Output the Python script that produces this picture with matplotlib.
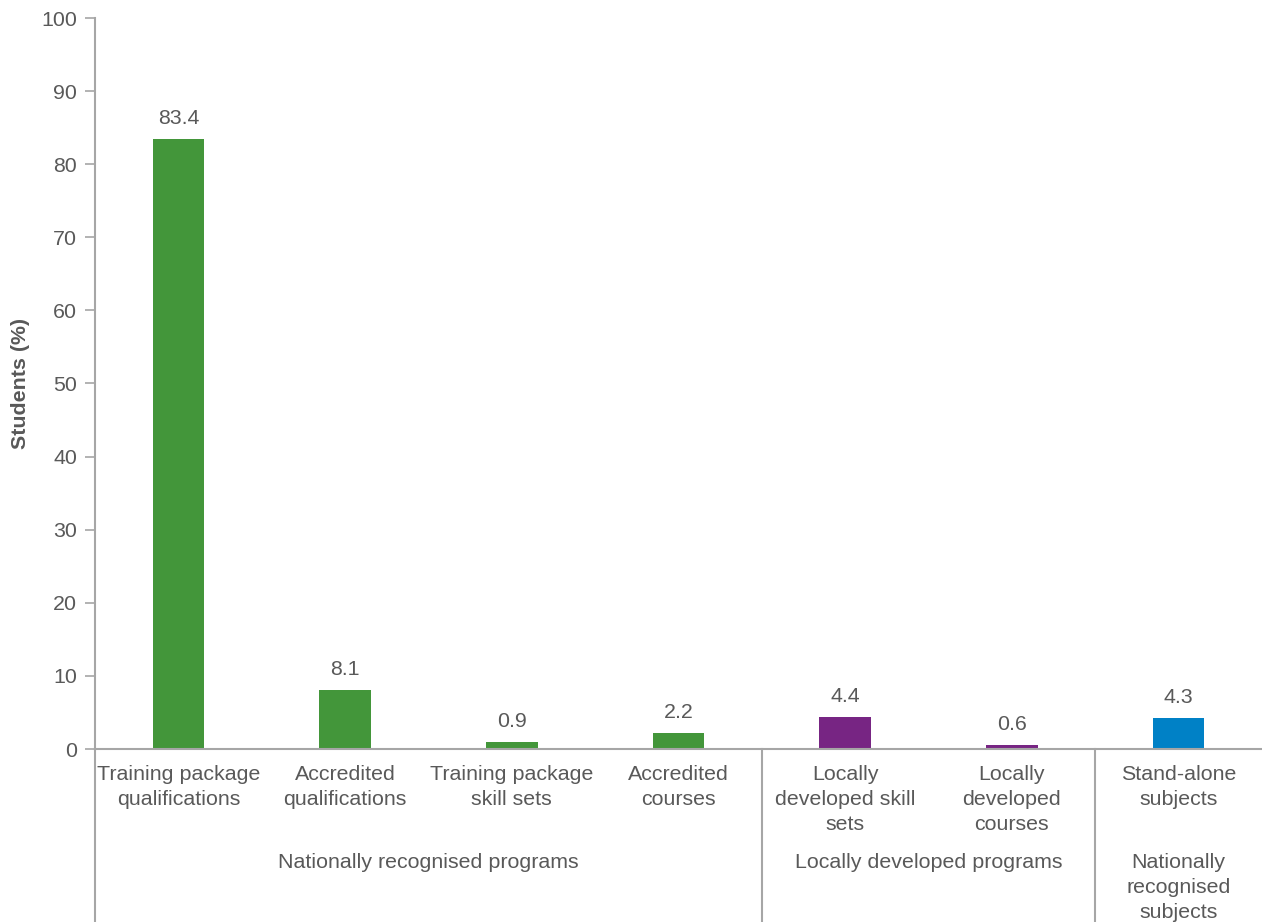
import matplotlib.pyplot as plt
from matplotlib.lines import Line2D

plt.rcParams['font.family'] = ['Liberation Sans', 'DejaVu Sans']

# Datos del gráfico
categorias = ["Training package\nqualifications", "Accredited\nqualifications",
              "Training package\nskill sets", "Accredited\ncourses",
              "Locally\ndeveloped skill\nsets", "Locally\ndeveloped\ncourses",
              "Stand-alone\nsubjects"]
valores = [83.4, 8.1, 0.9, 2.2, 4.4, 0.6, 4.3]
grupo_de_cat = [0, 0, 0, 0, 1, 1, 2]
grupos = ["Nationally recognised programs", "Locally developed programs",
          "Nationally\nrecognised\nsubjects"]
colores_grupo = ["#43963A", "#772583", "#0081C6"]

texto = "#595959"
linea = "#A6A6A6"
fs = 15.4

fig = plt.figure(figsize=(12.62, 9.22), dpi=100)
ax = fig.add_axes([95 / 1262, 173 / 922, 1 - 95 / 1262, (749 - 18) / 922])

x = list(range(len(categorias)))
colores = [colores_grupo[g] for g in grupo_de_cat]
ax.bar(x, valores, width=0.31, color=colores)

# Etiquetas de valor
for xi, v in zip(x, valores):
    ax.annotate(f"{v:.1f}", (xi, v), xytext=(0, 11), textcoords="offset pixels",
                ha="center", va="bottom", fontsize=fs, color=texto)

ax.set_xlim(-0.5, len(categorias) - 0.5)
ax.set_ylim(0, 100)
ax.set_yticks(range(0, 101, 10))
ax.set_xticks([])
ax.tick_params(axis="y", labelsize=fs, colors=linea, labelcolor=texto,
               length=7, width=1.2, pad=6)
ax.set_ylabel("Students (%)", fontsize=fs, fontweight="bold", color=texto)
ax.yaxis.set_label_coords(-65 / 1167, 0.5)

for s in ["top", "right"]:
    ax.spines[s].set_visible(False)
for s in ["left", "bottom"]:
    ax.spines[s].set_color(linea)
    ax.spines[s].set_linewidth(1.5)

tr = ax.get_xaxis_transform()
abajo = -173 / 731

# Etiquetas de categoría
for xi, cat in zip(x, categorias):
    ax.text(xi, -16 / 731, cat, transform=tr, ha="center", va="top",
            fontsize=fs, color=texto, linespacing=1.4)

# Etiquetas de grupo y separadores
for g, nombre in enumerate(grupos):
    idx = [i for i, gg in enumerate(grupo_de_cat) if gg == g]
    centro = (idx[0] + idx[-1]) / 2
    ax.text(centro, -104 / 731, nombre, transform=tr, ha="center", va="top",
            fontsize=fs, color=texto, linespacing=1.4)
    sep = idx[0] - 0.5
    ax.add_line(Line2D([sep, sep], [0, abajo], transform=tr, color=linea,
                       linewidth=1.5, clip_on=False))

fig.savefig("out.png", dpi=100)
